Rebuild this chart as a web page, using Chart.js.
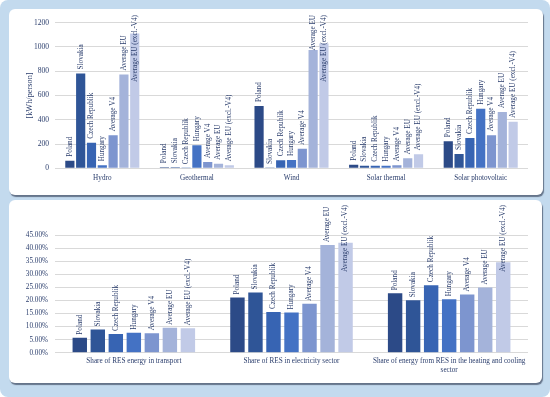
<!DOCTYPE html>
<html>
<head>
<meta charset="utf-8">
<script src="https://cdn.jsdelivr.net/npm/chart.js@4.4.1/dist/chart.umd.min.js"></script>
<style>
  body { margin: 0; background: #ffffff; }
  #frame { position: absolute; left: 0; top: 0; width: 550px; height: 397px; background: #c3daee; border-radius: 8px; }
  .panel { position: absolute; background: #ffffff; border-radius: 6px; box-shadow: 1px 2px 1px rgba(70, 82, 104, 0.75); overflow: hidden; }
  canvas { display: block; }
</style>
</head>
<body>
<div id="frame"></div>
<div class="panel" style="left:9px;top:9px;width:534px;height:186px"><canvas id="topChart" width="534" height="186"></canvas></div>
<div class="panel" style="left:9px;top:200px;width:533px;height:183px"><canvas id="bottomChart" width="533" height="183"></canvas></div>
<script>
var seriesNames = ['Poland', 'Slovakia', 'Czech Republik', 'Hungary', 'Average V4', 'Average EU', 'Average EU (excl.-V4)'];
var seriesColors = ['#2c4a87', '#2f5597', '#3764b3', '#4472c4', '#7d95cf', '#a4b3da', '#c1cae7'];

// kWh per person
var energyCategories = ['Hydro', 'Geothermal', 'Wind', 'Solar thermal', 'Solar photovoltaic'];
var energyPoland = [63, 8, 513, 30, 222];
var energySlovakia = [782, 8, 2, 22, 118];
var energyCzech = [211, 1, 66, 22, 250];
var energyHungary = [25, 189, 68, 22, 491];
var energyAvgV4 = [272, 52, 162, 25, 272];
var energyAvgEU = [774, 38, 974, 82, 464];
var energyAvgEUexcl = [1111, 25, 1029, 115, 384];

// shares in %
var shareCategories = ['Share of RES energy in transport', 'Share of RES in electricity sector', ['Share of energy from RES in the heating and cooling', 'sector']];
var sharePoland = [5.77, 21.15, 22.8];
var shareSlovakia = [8.85, 23.1, 20.1];
var shareCzech = [7.18, 15.6, 25.9];
var shareHungary = [7.69, 15.4, 20.5];
var shareAvgV4 = [7.44, 18.8, 22.3];
var shareAvgEU = [9.6, 41.3, 25.0];
var shareAvgEUexcl = [9.36, 42.1, 34.7];

var serif = '"Liberation Serif", "Times New Roman", serif';
var textColor = '#2a3d6c';
var gridColor = '#d9d9d9';

// series name written vertically above every bar
var barNames = {
    id: 'barNames',
    afterDatasetsDraw: function(chart, args, opts) {
        var ctx = chart.ctx;
        ctx.save();
        ctx.font = opts.size + 'px ' + serif;
        ctx.fillStyle = textColor;
        ctx.textAlign = 'left';
        ctx.textBaseline = 'middle';
        chart.data.datasets.forEach(function(ds, i) {
            chart.getDatasetMeta(i).data.forEach(function(bar) {
                var w = ctx.measureText(ds.label).width;
                var start = bar.y - opts.gap;
                if (start - w < opts.minTop) start = opts.minTop + w;
                ctx.save();
                ctx.translate(bar.x, start);
                ctx.rotate(-Math.PI / 2);
                ctx.fillText(ds.label, 0, 0);
                ctx.restore();
            });
        });
        ctx.restore();
    }
};

function makeDatasets(lists, barPct) {
    return lists.map(function(values, i) {
        return {
            label: seriesNames[i],
            data: values,
            backgroundColor: seriesColors[i],
            barPercentage: barPct,
            categoryPercentage: 0.8
        };
    });
}

new Chart(document.getElementById('topChart'), {
    type: 'bar',
    data: {
        labels: energyCategories,
        datasets: makeDatasets([energyPoland, energySlovakia, energyCzech, energyHungary, energyAvgV4, energyAvgEU, energyAvgEUexcl], 0.85)
    },
    options: {
        responsive: false,
        animation: false,
        layout: { padding: { left: 0, right: 15, top: 13.7, bottom: 0 } },
        plugins: {
            legend: { display: false },
            tooltip: { enabled: false },
            barNames: { size: 7.2, gap: 4, minTop: 6 }
        },
        scales: {
            x: {
                grid: { display: false, drawTicks: false },
                border: { display: false },
                ticks: { color: textColor, font: { family: serif, size: 7.2 }, padding: 5, maxRotation: 0, autoSkip: false },
                afterFit: function(scale) { scale.height = 26.7; }
            },
            y: {
                min: 0,
                max: 1200,
                ticks: {
                    stepSize: 200,
                    color: textColor,
                    font: { family: serif, size: 7.5 },
                    padding: 6,
                    callback: function(v) { return String(v); }
                },
                grid: { color: gridColor, drawTicks: false },
                border: { display: false },
                title: { display: true, text: '[kWh/person]', color: textColor, font: { family: serif, size: 8.3 }, padding: { top: 16, bottom: 0 } },
                afterFit: function(scale) { scale.width = 46; }
            }
        }
    },
    plugins: [barNames]
});

new Chart(document.getElementById('bottomChart'), {
    type: 'bar',
    data: {
        labels: shareCategories,
        datasets: makeDatasets([sharePoland, shareSlovakia, shareCzech, shareHungary, shareAvgV4, shareAvgEU, shareAvgEUexcl], 0.8)
    },
    options: {
        responsive: false,
        animation: false,
        layout: { padding: { left: 0, right: 14, top: 35.3, bottom: 0 } },
        plugins: {
            legend: { display: false },
            tooltip: { enabled: false },
            barNames: { size: 7.2, gap: 3, minTop: 5 }
        },
        scales: {
            x: {
                grid: { display: false, drawTicks: false },
                border: { display: false },
                ticks: { color: textColor, font: { family: serif, size: 7.2 }, padding: 4, maxRotation: 0, autoSkip: false },
                afterFit: function(scale) { scale.height = 30.3; }
            },
            y: {
                min: 0,
                max: 45,
                ticks: {
                    stepSize: 5,
                    color: textColor,
                    font: { family: serif, size: 7.2 },
                    padding: 7,
                    callback: function(v) { return v.toFixed(2) + '%'; }
                },
                grid: { color: gridColor, drawTicks: false },
                border: { display: false },
                afterFit: function(scale) { scale.width = 46; }
            }
        }
    },
    plugins: [barNames]
});
</script>
</body>
</html>
